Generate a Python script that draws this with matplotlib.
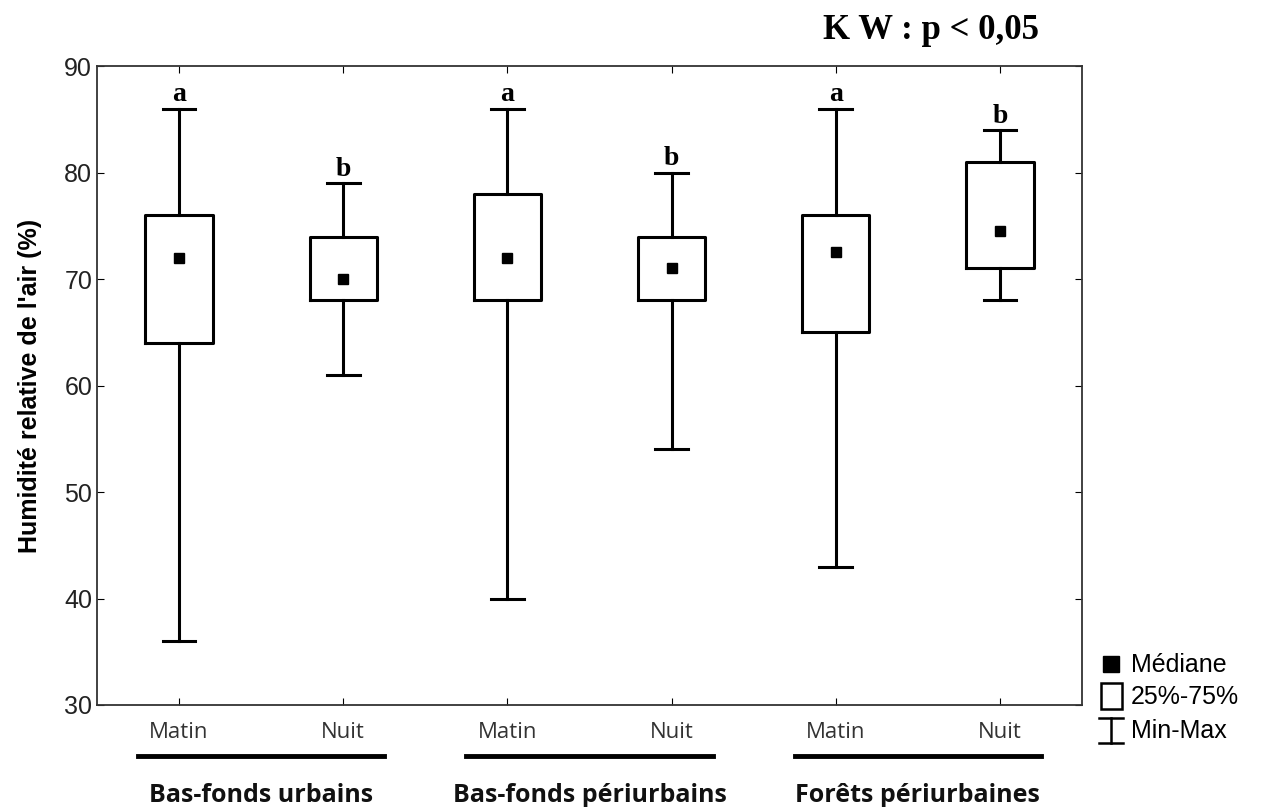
import matplotlib.pyplot as plt
from matplotlib.lines import Line2D
from matplotlib.patches import Rectangle

# données
positions = [1, 2, 3, 4, 5, 6]
moments = ['Matin', 'Nuit', 'Matin', 'Nuit', 'Matin', 'Nuit']
sites = ['Bas-fonds urbains', 'Bas-fonds périurbains', 'Forêts périurbaines']
mins = [36, 61, 40, 54, 43, 68]
q1 = [64, 68, 68, 68, 65, 71]
medianes = [72, 70, 72, 71, 72.5, 74.5]
q3 = [76, 74, 78, 74, 76, 81]
maxs = [86, 79, 86, 80, 86, 84]
lettres = ['a', 'b', 'a', 'b', 'a', 'b']

fig = plt.figure(figsize=(12.63, 8.07), dpi=100)
ax = fig.add_axes([0.0768, 0.1264, 0.7799, 0.7916])

stats = []
for i in range(len(positions)):
    stats.append({'med': medianes[i], 'q1': q1[i], 'q3': q3[i],
                  'whislo': mins[i], 'whishi': maxs[i], 'fliers': []})

lp = dict(color='black', linewidth=2.2)
ax.bxp(stats, positions=positions, widths=0.41, capwidths=0.2,
       showfliers=False, boxprops=lp, whiskerprops=lp, capprops=lp,
       medianprops=dict(linestyle='none'))
ax.plot(positions, medianes, 's', color='black', markersize=7, linestyle='none')

for x, m, l in zip(positions, maxs, lettres):
    ax.annotate(l, (x, m), xytext=(0, 1), textcoords='offset points',
                ha='center', va='bottom', fontsize=20, fontweight='bold',
                family='Liberation Serif')

ax.set_xlim(0.5, 6.5)
ax.set_ylim(30, 90)
ax.set_yticks([30, 40, 50, 60, 70, 80, 90])
ax.set_xticks(positions)
ax.set_xticklabels(moments, family='Open Sans', fontsize=16, color='#333333')
ax.tick_params(axis='y', labelsize=18, direction='in', length=5, right=True,
               labelcolor='#222222')
ax.tick_params(axis='x', direction='in', length=5, top=True, pad=12)
for lab in ax.get_yticklabels():
    lab.set_family('Liberation Sans')
for s in ax.spines.values():
    s.set_linewidth(1.3)
    s.set_color('#333333')

ax.set_ylabel("Humidité relative de l'air (%)", fontsize=18, fontweight='bold',
              family='Liberation Sans', labelpad=16)

fig.text(0.737, 0.962, 'K W : p < 0,05', fontsize=25, fontweight='bold',
         family='Liberation Serif', ha='center', va='center')

# traits et noms des sites
for k, nom in enumerate(sites):
    x0 = positions[2 * k] - 0.25
    x1 = positions[2 * k + 1] + 0.25
    ax.plot([x0, x1], [-0.08, -0.08], transform=ax.get_xaxis_transform(),
            color='black', linewidth=3.5, clip_on=False)
    ax.text((x0 + x1) / 2, -0.142, nom, transform=ax.get_xaxis_transform(),
            ha='center', va='center', fontsize=18, fontweight='bold',
            family='Open Sans', color='#111111')

# légende
W, H = 1263, 807
def fx(px):
    return px / W
def fy(py):
    return 1 - py / H
fig.add_artist(Rectangle((fx(1103), fy(672)), 16 / W, 16 / H, transform=fig.transFigure,
                         facecolor='black', edgecolor='black'))
fig.add_artist(Rectangle((fx(1101), fy(709)), 21 / W, 26 / H, transform=fig.transFigure,
                         facecolor='white', edgecolor='black', linewidth=1.8))
fig.add_artist(Line2D([fx(1111), fx(1111)], [fy(718), fy(743)], transform=fig.transFigure,
                      color='black', linewidth=1.8))
for yy in (718, 743):
    fig.add_artist(Line2D([fx(1099), fx(1123)], [fy(yy), fy(yy)], transform=fig.transFigure,
                          color='black', linewidth=1.8))
for txt, yy in (('Médiane', 665), ('25%-75%', 697), ('Min-Max', 731)):
    fig.text(fx(1131), fy(yy), txt, fontsize=18, family='Liberation Sans',
             va='center', ha='left')

fig.savefig('out.png', dpi=100)
